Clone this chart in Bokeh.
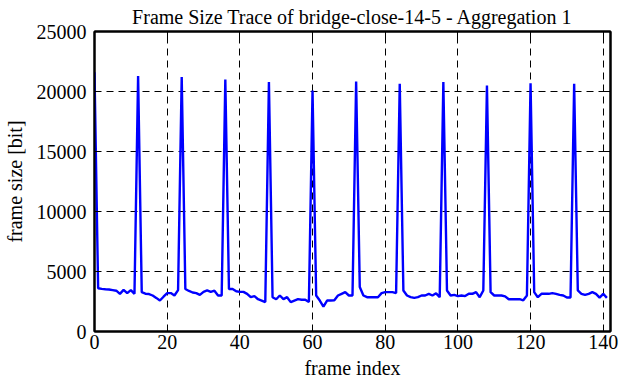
from bokeh.plotting import figure
from bokeh.models import LinearAxis, Range1d, FixedTicker, Title, CustomJSTickFormatter
from bokeh.embed import file_html
from bokeh.resources import INLINE

# frame index 0..141
frame_size = [
    21600, 3600, 3550, 3520, 3500, 3450, 3400, 3140, 3470, 3200,
    3450, 3140, 21300, 3280, 3150, 3120, 3000, 2800, 2580, 2900,
    3200, 3200, 3000, 3450, 21200, 3540, 3380, 3250, 3200, 3050,
    3300, 3420, 3300, 3400, 3000, 3000, 21000, 3540, 3540, 3350,
    3300, 3300, 3140, 2860, 2950, 2690, 2580, 2450, 20780, 2860,
    2690, 3000, 2700, 2860, 2450, 2580, 2700, 2650, 2650, 2450,
    20080, 3000, 2580, 2080, 2580, 2580, 2600, 3000, 3140, 3280,
    3000, 3000, 20830, 3700, 3000, 2860, 2860, 2860, 2860, 3200,
    3280, 3280, 3280, 3200, 20640, 3420, 3000, 2860, 2800, 2860,
    3000, 3000, 3140, 3000, 3180, 2860, 20780, 3420, 3000, 3050,
    2950, 3000, 2950, 3140, 3140, 3280, 2860, 3420, 20500, 3280,
    3000, 3000, 3000, 2930, 2690, 2690, 2690, 2690, 2600, 3000,
    20690, 3280, 2860, 3140, 3140, 3140, 3200, 3140, 3050, 3000,
    2830, 2830, 20640, 3420, 3140, 3050, 3140, 3280, 3140, 2830,
    3140, 2800,
]
frame_index = list(range(len(frame_size)))

x_ticks = [0, 20, 40, 60, 80, 100, 120, 140]
y_ticks = [0, 5000, 10000, 15000, 20000, 25000]

FONT = "Liberation Serif"
TICK_FONT = "Times"
FS = "20px"

p = figure(width=622, height=382, output_backend="svg", toolbar_location=None,
           x_range=Range1d(0, 142), y_range=Range1d(0, 25000),
           min_border_left=92, min_border_right=12, min_border_top=30, min_border_bottom=51)

p.title = Title(text="Frame Size Trace of bridge-close-14-5 - Aggregation 1",
                text_font=FONT, text_font_size=FS, text_font_style="normal",
                align="center", offset=23, standoff=7, text_color="black")

p.line(frame_index, frame_size, line_color="#0000ff", line_width=2.4)

p.outline_line_color = "black"
p.outline_line_width = 2
p.outline_line_alpha = 1.0

for ax in (p.xaxis[0], p.yaxis[0]):
    ax.major_tick_in = 6
    ax.major_tick_out = 0
    ax.minor_tick_in = 0
    ax.minor_tick_out = 0
    ax.axis_line_color = "black"
    ax.axis_line_width = 2
    ax.major_tick_line_width = 1
    ax.major_label_text_font = TICK_FONT
    ax.major_label_text_font_size = FS
    ax.major_label_text_color = "black"
    ax.major_label_text_line_height = 1.0
    ax.axis_label_text_font = FONT
    ax.axis_label_text_font_size = FS
    ax.axis_label_text_font_style = "normal"
    ax.axis_label_text_color = "black"
    ax.axis_label_text_line_height = 1.0

p.xaxis[0].ticker = FixedTicker(ticks=x_ticks)
p.yaxis[0].ticker = FixedTicker(ticks=y_ticks)
p.xaxis[0].axis_label = "frame index"
p.yaxis[0].axis_label = "frame size [bit]"
p.xaxis[0].major_label_standoff = 3
p.xaxis[0].axis_label_standoff = 5
p.yaxis[0].major_label_standoff = 8
p.yaxis[0].axis_label_standoff = 8

# mirror ticks on right and top (no labels)
blank = CustomJSTickFormatter(code="return ''")
r_ax = LinearAxis(ticker=FixedTicker(ticks=y_ticks), formatter=blank,
                  major_tick_in=6, major_tick_out=0, minor_tick_in=0, minor_tick_out=0,
                  axis_line_color="black", axis_line_width=2, major_label_standoff=0)
t_ax = LinearAxis(ticker=FixedTicker(ticks=x_ticks), formatter=blank,
                  major_tick_in=6, major_tick_out=0, minor_tick_in=0, minor_tick_out=0,
                  axis_line_color="black", axis_line_width=2, major_label_standoff=0)
p.add_layout(r_ax, "right")
p.add_layout(t_ax, "above")

p.xgrid.ticker = FixedTicker(ticks=x_ticks)
p.ygrid.ticker = FixedTicker(ticks=y_ticks)
for g in (p.xgrid[0], p.ygrid[0]):
    g.grid_line_color = "black"
    g.grid_line_dash = "7 5"
    g.grid_line_width = 1
    g.grid_line_alpha = 1.0

p.background_fill_color = "white"
p.border_fill_color = "white"

open("out.html", "w").write(file_html(p, INLINE))
